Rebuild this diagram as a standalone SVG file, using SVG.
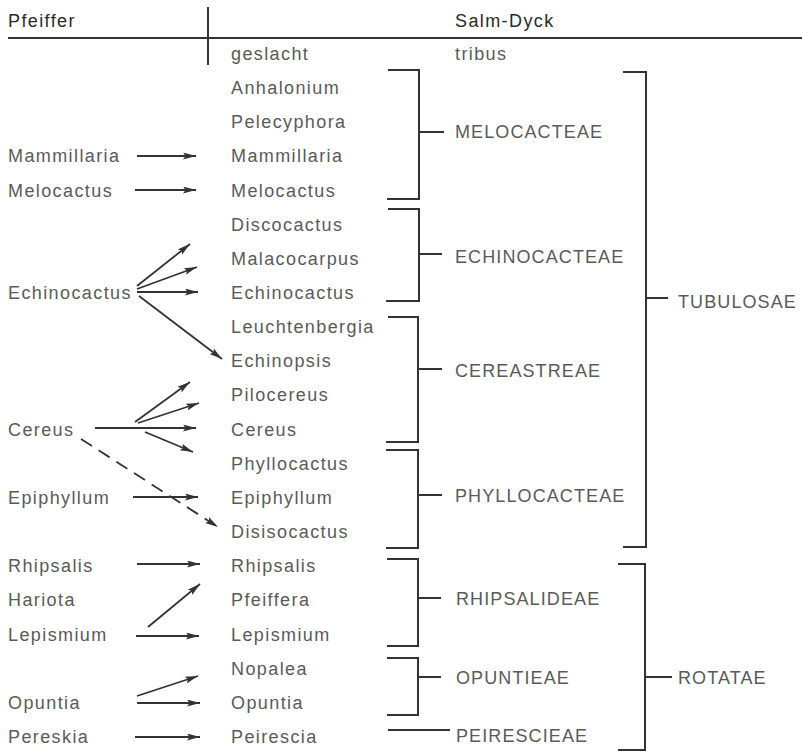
<svg xmlns="http://www.w3.org/2000/svg" width="802" height="752" viewBox="0 0 802 752">
<defs>
<style>
text{font-family:"Liberation Sans",Arial,sans-serif;font-size:18px;letter-spacing:1.4px;fill:#5a5a5a}
.h{fill:#2a2a2a}
.t{letter-spacing:1.1px}
.ln{stroke:#333;stroke-width:2;fill:none}
.ar{stroke:#333;stroke-width:1.8;fill:none;marker-end:url(#ah)}
.da{stroke:#333;stroke-width:1.8;fill:none;stroke-dasharray:13 8;marker-end:url(#ah)}
</style>
<marker id="ah" markerUnits="userSpaceOnUse" markerWidth="16" markerHeight="10" refX="13" refY="3.5" orient="auto">
<path d="M0,0 L13,3.5 L0,7 L2.5,3.5 z" fill="#333"/>
</marker>
</defs>
<rect width="802" height="752" fill="#fff"/>
<g id="header">
<text class="h" x="8" y="27">Pfeiffer</text>
<text class="h" x="455" y="27">Salm-Dyck</text>
<line class="ln" x1="8" y1="38" x2="802" y2="38"/>
<line class="ln" x1="208" y1="7" x2="208" y2="65"/>
<text x="231" y="60">geslacht</text>
<text x="455" y="60">tribus</text>
</g>
<g id="pfeiffer">
<text x="8" y="162">Mammillaria</text>
<text x="8" y="197">Melocactus</text>
<text x="8" y="299">Echinocactus</text>
<text x="8" y="436">Cereus</text>
<text x="8" y="504">Epiphyllum</text>
<text x="8" y="572">Rhipsalis</text>
<text x="8" y="606">Hariota</text>
<text x="8" y="641">Lepismium</text>
<text x="8" y="709">Opuntia</text>
<text x="8" y="743">Pereskia</text>
</g>
<g id="geslacht">
<text x="231" y="94">Anhalonium</text>
<text x="231" y="128">Pelecyphora</text>
<text x="231" y="162">Mammillaria</text>
<text x="231" y="197">Melocactus</text>
<text x="231" y="231">Discocactus</text>
<text x="231" y="265">Malacocarpus</text>
<text x="231" y="299">Echinocactus</text>
<text x="231" y="333">Leuchtenbergia</text>
<text x="231" y="367">Echinopsis</text>
<text x="231" y="401">Pilocereus</text>
<text x="231" y="436">Cereus</text>
<text x="231" y="470">Phyllocactus</text>
<text x="231" y="504">Epiphyllum</text>
<text x="231" y="538">Disisocactus</text>
<text x="231" y="572">Rhipsalis</text>
<text x="231" y="606">Pfeiffera</text>
<text x="231" y="641">Lepismium</text>
<text x="231" y="675">Nopalea</text>
<text x="231" y="709">Opuntia</text>
<text x="231" y="743">Peirescia</text>
</g>
<g id="tribus">
<text class="t" x="455" y="138">MELOCACTEAE</text>
<text class="t" x="455" y="263">ECHINOCACTEAE</text>
<text class="t" x="455" y="377">CEREASTREAE</text>
<text class="t" x="455" y="502">PHYLLOCACTEAE</text>
<text class="t" x="456" y="605">RHIPSALIDEAE</text>
<text class="t" x="456" y="684">OPUNTIEAE</text>
<text class="t" x="456" y="742">PEIRESCIEAE</text>
<text class="t" x="678" y="308">TUBULOSAE</text>
<text class="t" x="678" y="684">ROTATAE</text>
</g>
<g id="connectors">
<path class="ln" d="M388,70 H419 V199 H387 M419,132 H444"/>
<path class="ln" d="M388,209 H419 V301 H386 M419,254 H442"/>
<path class="ln" d="M388,317 H418 V442 H386 M418,369 H442"/>
<path class="ln" d="M386,450 H418 V548 H386 M418,495 H442"/>
<path class="ln" d="M387,559 H418 V646 H387 M418,598 H441"/>
<path class="ln" d="M387,658 H418 V715 H387 M418,677 H441"/>
<path class="ln" d="M388,730 H450"/>
<path class="ln" d="M623,72 H646 V547 H623 M646,298 H668"/>
<path class="ln" d="M618,564 H645 V750 H618 M645,677 H672"/>
<line class="ar" x1="137" y1="156" x2="196" y2="156"/>
<line class="ar" x1="135" y1="190" x2="196" y2="190"/>
<line class="ar" x1="137" y1="286" x2="190" y2="244"/>
<line class="ar" x1="137" y1="289" x2="197" y2="267"/>
<line class="ar" x1="137" y1="292" x2="198" y2="292"/>
<line class="ar" x1="139" y1="296" x2="222" y2="359"/>
<line class="ar" x1="135" y1="422" x2="190" y2="382"/>
<line class="ar" x1="138" y1="423" x2="199" y2="403"/>
<line class="ar" x1="95" y1="428" x2="196" y2="428"/>
<line class="ar" x1="145" y1="432" x2="193" y2="452"/>
<line class="da" x1="81" y1="439" x2="218" y2="527"/>
<line class="ar" x1="133" y1="497" x2="198" y2="497"/>
<line class="ar" x1="137" y1="564" x2="200" y2="564"/>
<line class="ar" x1="148" y1="627" x2="200" y2="584"/>
<line class="ar" x1="136" y1="636" x2="199" y2="636"/>
<line class="ar" x1="137" y1="696" x2="198" y2="676"/>
<line class="ar" x1="137" y1="703" x2="200" y2="703"/>
<line class="ar" x1="135" y1="737" x2="200" y2="737"/>
</g>
</svg>
